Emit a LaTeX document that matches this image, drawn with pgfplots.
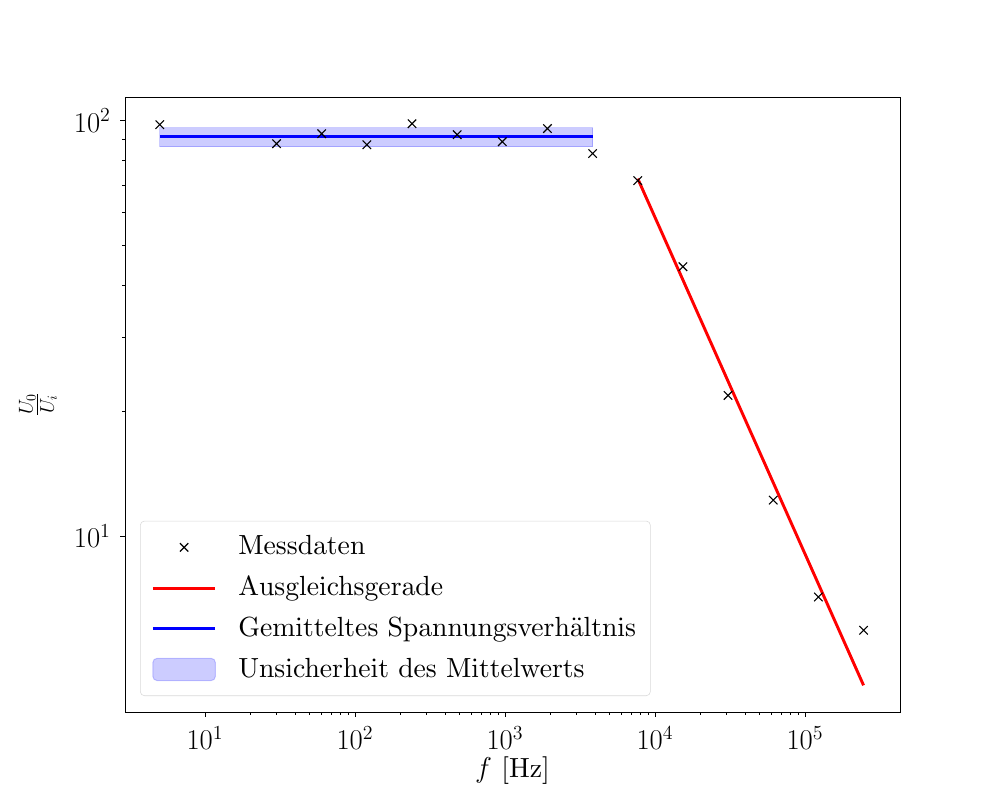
\documentclass[border=0pt]{standalone}
\usepackage{pgfplots}
\pgfplotsset{compat=1.18}
\DeclareFontFamily{OT1}{cmrten}{}
\DeclareFontShape{OT1}{cmrten}{m}{n}{<-> cmr10}{}
\newcommand{\lbl}{\fontsize{20}{24}\fontencoding{OT1}\fontfamily{cmrten}\selectfont}
\pgfplotsset{
  lineleg/.style={legend image code/.code={\draw[##1] (0bp,0bp) -- (45bp,0bp);}},
  markleg/.style={legend image code/.code={\draw[##1] plot coordinates {(22.5bp,0bp)};}},
  arealeg/.style={legend image code/.code={\draw[##1] (0bp,-8bp) rectangle (45bp,8bp);}},
}
\begin{document}
\fontsize{20}{24}\selectfont
\begin{tikzpicture}
\useasboundingbox (0,0) rectangle (720bp,576bp);
\begin{axis}[
  at={(90bp,63.36bp)}, anchor=south west,
  scale only axis, width=558bp, height=442.8bp,
  xmode=log, ymode=log,
  xmin=2.93, xmax=4.3e5, ymin=3.77, ymax=114,
  tick pos=left, tick align=outside,
  major tick length=3.5bp, minor tick length=2bp,
  every tick/.style={black, line width=0.6bp},
  axis line style={line width=0.6bp},
  xtick={10,100,1000,10000,100000},
  ytick={10,100},
  tick label style={font=\fontsize{20}{24}\selectfont},
  xlabel={$f$ [Hz]},
  ylabel={$\frac{U_0}{U_i}$},
  xlabel style={at={(axis description cs:0.5,-0.095)}, anchor=center, font=\lbl},
  ylabel style={at={(axis description cs:-0.1123,0.5)}, anchor=center, font=\lbl},
  legend style={at={(0.0194,0.026)}, anchor=south west, draw=black!15, rounded corners=3bp,
    fill=white, fill opacity=0.8, text opacity=1, font=\lbl,
    inner xsep=8bp, inner ysep=8.5bp, row sep=8.5bp,
    /tikz/every odd column/.append style={column sep=13.5bp}},
  legend cell align=left,
]
\addplot[only marks, mark=x, mark size=4.3bp, black, line width=0.8bp, markleg]
coordinates {
(5,97.8) (30,88.0) (60,93.0) (120,87.5) (240,98.3) (480,92.5) (960,89.0)
(1920,95.7) (3840,83.3) (7680,71.7) (15360,44.5) (30720,21.8) (61440,12.2)
(122880,7.13) (245760,5.93)
};
\addlegendentry{Messdaten}
\addplot[red, line width=2.1bp, no marks, lineleg]
coordinates {(7680,72.5) (245760,4.37)};
\addlegendentry{Ausgleichsgerade}
\addplot[blue, line width=2.1bp, no marks, lineleg]
coordinates {(5,91.5) (3840,91.5)};
\addlegendentry{Gemitteltes Spannungsverh\"altnis}
\addplot[fill=blue, fill opacity=0.2, draw=blue, draw opacity=0.2, line width=0.7bp, no marks, arealeg]
coordinates {(5,86.6) (3840,86.6) (3840,96.2) (5,96.2)} -- cycle;
\addlegendentry{Unsicherheit des Mittelwerts}
\end{axis}
\end{tikzpicture}
\end{document}
